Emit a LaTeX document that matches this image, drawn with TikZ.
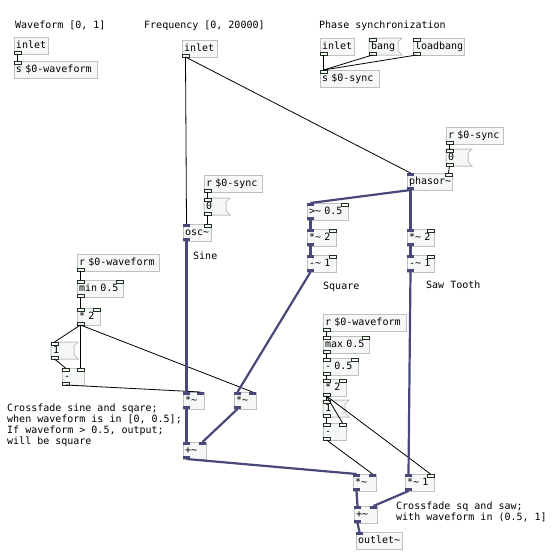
\documentclass[tikz,border=0pt]{standalone}
\usepackage{fontspec}
\setmonofont{DejaVu Sans Mono}
\definecolor{boxfill}{RGB}{246,248,248}
\definecolor{boxline}{RGB}{192,192,192}
\definecolor{iogreen}{RGB}{30,50,30}
\definecolor{sigcol}{RGB}{72,72,122}
% inlets / outlet of a box
\newcommand{\iol}[2]{\node[#1,anchor=north west] (#2-i0) at (#2.north west) {};}
\newcommand{\ior}[2]{\node[#1,anchor=north east] (#2-i1) at (#2.north east) {};}
\newcommand{\ioo}[2]{\node[#1,anchor=south west] (#2-o0) at (#2.south west) {};}
% message box outline with its flag
\newcommand{\msgflag}[1]{\draw[boxline,line width=1pt] (#1.north west) -- ([xshift=4pt]#1.north east)
  -- ([yshift=-4pt]#1.north east) -- ([yshift=4pt]#1.south east) -- ([xshift=4pt]#1.south east)
  -- (#1.south west) -- cycle;}
\newcommand{\sg}{{\char`~}}
\begin{document}
\begin{tikzpicture}[x=1pt,y=-1pt,
    every node/.style={font=\ttfamily\fontsize{10}{11}\selectfont},
    pdobj/.style={draw=boxline,fill=boxfill,line width=1pt,anchor=north west,outer sep=0pt,
      inner xsep=2pt,inner ysep=0pt,minimum height=17pt,text width=#1,align=left,
      text height=8pt,text depth=1.5pt},
    pdmsg/.style={pdobj=#1,draw=none},
    ctlio/.style={draw=iogreen,fill=boxfill,line width=0.8pt,minimum width=7pt,minimum height=3pt,inner sep=0pt,outer sep=0pt},
    sigio/.style={fill=sigcol,minimum width=7pt,minimum height=3pt,inner sep=0pt,outer sep=0pt},
    ctlcord/.style={black,line width=0.8pt},
    sigcord/.style={sigcol,line width=2.2pt},
    cmt/.style={anchor=base west,inner sep=0pt}]
  \path[use as bounding box,fill=white] (0,0) rectangle (556,558);

  % comments
  \node[cmt] (cwave) at (15,28) {Waveform [0, 1]};
  \node[cmt] (cfreq) at (144,28) {Frequency [0, 20000]};
  \node[cmt] (cphase) at (319,28) {Phase synchronization};
  \node[cmt] (csine) at (193,259) {Sine};
  \node[cmt] (csquare) at (323,289) {Square};
  \node[cmt] (csaw) at (426,288) {Saw Tooth};
  \node[anchor=north west,inner sep=0pt,align=left] (cfadea) at (7,403.5)
    {Crossfade sine and sqare;\\when waveform is in [0, 0.5];\\If waveform > 0.5, output;\\will be square};
  \node[anchor=north west,inner sep=0pt,align=left] (cfadeb) at (396,501.5)
    {Crossfade sq and saw;\\with waveform in (0.5, 1]};

  % inlets and senders
  \node[pdobj=30pt] (winlet) at (14,37) {inlet};
  \node[pdobj=79pt] (wsend) at (14,61) {s \$0-waveform};
  \node[pdobj=31pt] (finlet) at (182,40) {inlet};
  \node[pdobj=30pt] (sinlet) at (320,38) {inlet};
  \node[pdmsg=25pt] (bang) at (369,38) {bang};
  \msgflag{bang}
  \node[pdobj=47pt] (loadbang) at (413,38) {loadbang};
  \node[pdobj=55pt] (ssend) at (320,70) {s \$0-sync};
  \ioo{ctlio}{winlet} \iol{ctlio}{wsend}
  \ioo{ctlio}{finlet} \ioo{ctlio}{sinlet}
  \iol{ctlio}{bang} \ioo{ctlio}{bang}
  \iol{ctlio}{loadbang} \ioo{ctlio}{loadbang}
  \iol{ctlio}{ssend}

  % phasor branch
  \node[pdobj=53pt] (rsyncb) at (446,127) {r \$0-sync};
  \node[pdmsg=18pt] (zerob) at (446,149) {0};
  \msgflag{zerob}
  \node[pdobj=41pt] (phasor) at (407,173) {phasor\sg};
  \node[pdobj=37pt] (gt) at (307,203) {>\sg{} 0.5};
  \node[pdobj=25pt] (sqmul) at (307,229) {*\sg{} 2};
  \node[pdobj=25pt] (sqsub) at (307,255) {-\sg{} 1};
  \node[pdobj=23pt] (sawmul) at (407,229) {*\sg{} 2};
  \node[pdobj=23pt] (sawsub) at (407,255) {-\sg{} 1};
  \ioo{ctlio}{rsyncb}
  \iol{ctlio}{zerob} \ioo{ctlio}{zerob}
  \foreach \n in {phasor,gt,sqmul,sqsub,sawmul,sawsub} {\iol{sigio}{\n} \ior{ctlio}{\n} \ioo{sigio}{\n}}

  % osc branch
  \node[pdobj=54pt] (rsynca) at (204,175) {r \$0-sync};
  \node[pdmsg=18pt] (zeroa) at (204,198) {0};
  \msgflag{zeroa}
  \node[pdobj=24pt] (osc) at (183,224) {osc\sg};
  \ioo{ctlio}{rsynca}
  \iol{ctlio}{zeroa} \ioo{ctlio}{zeroa}
  \iol{sigio}{osc} \ior{ctlio}{osc} \ioo{sigio}{osc}

  % sine / square gains
  \node[pdobj=78pt] (rwavea) at (77,254) {r \$0-waveform};
  \node[pdobj=42pt] (minv) at (77,280) {min 0.5};
  \node[pdobj=19pt] (mula) at (77,308) {* 2};
  \node[pdmsg=19pt] (onea) at (51,342) {1};
  \msgflag{onea}
  \node[pdobj=18pt] (suba) at (62,368) {-};
  \node[pdobj=17pt] (xa) at (183,392) {*\sg};
  \node[pdobj=18pt] (xb) at (234,392) {*\sg};
  \node[pdobj=19pt] (adda) at (183,442) {+\sg};
  \ioo{ctlio}{rwavea}
  \foreach \n in {minv,mula,suba} {\iol{ctlio}{\n} \ior{ctlio}{\n} \ioo{ctlio}{\n}}
  \iol{ctlio}{onea} \ioo{ctlio}{onea}
  \foreach \n in {xa,xb,adda} {\iol{sigio}{\n} \ior{sigio}{\n} \ioo{sigio}{\n}}

  % square / saw gains
  \node[pdobj=79pt] (rwaveb) at (323,314) {r \$0-waveform};
  \node[pdobj=42pt] (maxv) at (323,336) {max 0.5};
  \node[pdobj=31pt] (subh) at (323,358) {- 0.5};
  \node[pdobj=19pt] (mulb) at (323,379) {* 2};
  \node[pdmsg=18pt] (oneb) at (323,400) {1};
  \msgflag{oneb}
  \node[pdobj=19pt] (subb) at (323,423) {-};
  \node[pdobj=19pt] (xc) at (353,474) {*\sg};
  \node[pdobj=25pt] (xd) at (405,474) {*\sg{} 1};
  \node[pdobj=19pt] (addb) at (354,506) {+\sg};
  \node[pdobj=42pt] (out) at (356,532) {outlet\sg};
  \ioo{ctlio}{rwaveb}
  \foreach \n in {maxv,subh,mulb,subb} {\iol{ctlio}{\n} \ior{ctlio}{\n} \ioo{ctlio}{\n}}
  \iol{ctlio}{oneb} \ioo{ctlio}{oneb}
  \foreach \n in {xc,addb} {\iol{sigio}{\n} \ior{sigio}{\n} \ioo{sigio}{\n}}
  \iol{sigio}{xd} \ior{ctlio}{xd} \ioo{sigio}{xd}
  \iol{sigio}{out}

  % control cords
  \draw[ctlcord] (winlet-o0.south) -- (wsend-i0.north);
  \draw[ctlcord] (finlet-o0.south) -- (osc-i0.north);
  \draw[ctlcord] (finlet-o0.south) -- (phasor-i0.north);
  \draw[ctlcord] (sinlet-o0.south) -- (ssend-i0.north);
  \draw[ctlcord] (bang-o0.south) -- (ssend-i0.north);
  \draw[ctlcord] (loadbang-o0.south) -- (ssend-i0.north);
  \draw[ctlcord] (rsyncb-o0.south) -- (zerob-i0.north);
  \draw[ctlcord] (zerob-o0.south) -- (phasor-i1.north);
  \draw[ctlcord] (rsynca-o0.south) -- (zeroa-i0.north);
  \draw[ctlcord] (zeroa-o0.south) -- (osc-i1.north);
  \draw[ctlcord] (rwavea-o0.south) -- (minv-i0.north);
  \draw[ctlcord] (minv-o0.south) -- (mula-i0.north);
  \draw[ctlcord] (mula-o0.south) -- (onea-i0.north);
  \draw[ctlcord] (mula-o0.south) -- (suba-i1.north);
  \draw[ctlcord] (mula-o0.south) -- (xb-i1.north);
  \draw[ctlcord] (onea-o0.south) -- (suba-i0.north);
  \draw[ctlcord] (suba-o0.south) -- (xa-i1.north);
  \draw[ctlcord] (rwaveb-o0.south) -- (maxv-i0.north);
  \draw[ctlcord] (maxv-o0.south) -- (subh-i0.north);
  \draw[ctlcord] (subh-o0.south) -- (mulb-i0.north);
  \draw[ctlcord] (mulb-o0.south) -- (oneb-i0.north);
  \draw[ctlcord] (mulb-o0.south) -- (subb-i1.north);
  \draw[ctlcord] (mulb-o0.south) -- (xd-i1.north);
  \draw[ctlcord] (oneb-o0.south) -- (subb-i0.north);
  \draw[ctlcord] (subb-o0.south) -- (xc-i1.north);

  % signal cords
  \draw[sigcord] (phasor-o0.south) -- (gt-i0.north);
  \draw[sigcord] (phasor-o0.south) -- (sawmul-i0.north);
  \draw[sigcord] (gt-o0.south) -- (sqmul-i0.north);
  \draw[sigcord] (sqmul-o0.south) -- (sqsub-i0.north);
  \draw[sigcord] (sqsub-o0.south) -- (xb-i0.north);
  \draw[sigcord] (sawmul-o0.south) -- (sawsub-i0.north);
  \draw[sigcord] (sawsub-o0.south) -- (xd-i0.north);
  \draw[sigcord] (osc-o0.south) -- (xa-i0.north);
  \draw[sigcord] (xa-o0.south) -- (adda-i0.north);
  \draw[sigcord] (xb-o0.south) -- (adda-i1.north);
  \draw[sigcord] (adda-o0.south) -- (xc-i0.north);
  \draw[sigcord] (xc-o0.south) -- (addb-i0.north);
  \draw[sigcord] (xd-o0.south) -- (addb-i1.north);
  \draw[sigcord] (addb-o0.south) -- (out-i0.north);
\end{tikzpicture}
\end{document}
